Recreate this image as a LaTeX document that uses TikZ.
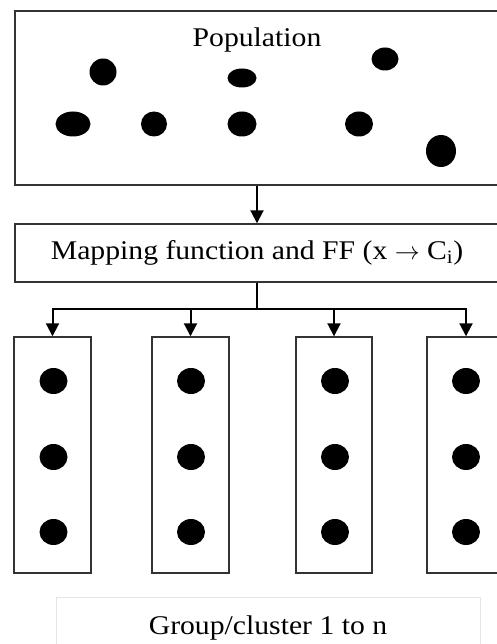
\documentclass[tikz,border=0pt]{standalone}
\usepackage{fontspec}
\setmainfont[FakeStretch=1.1]{Liberation Serif}
\usepackage{tikz}
\usetikzlibrary{arrows.meta,shapes.geometric}
\definecolor{bxline}{HTML}{333333}
\definecolor{bxpale}{HTML}{E4E4E4}

\begin{document}
\begin{tikzpicture}[
  x=1pt, y=-1pt,
  box/.style={draw=bxline, line width=1.4pt, inner sep=0pt},
  dot/.style={ellipse, fill=black, inner sep=0pt, minimum width=28pt, minimum height=26pt},
  lbl/.style={font=\fontsize{27pt}{30pt}\selectfont},
  arr/.style={-{Triangle[length=13pt,width=13pt]}, line width=2pt, draw=black}
]
\useasboundingbox (0,0) rectangle (496,644);
% population
\node[box, minimum width=484pt, minimum height=174pt] (pop) at (257,98) {};
\node[lbl] (poptext) at (257,40) {Population};
\node[dot, minimum width=27pt, minimum height=27pt] (p1) at (103,72) {};
\node[dot, minimum width=29pt, minimum height=19pt] (p2) at (242,78) {};
\node[dot, minimum width=27pt, minimum height=23pt] (p3) at (385,59) {};
\node[dot, minimum width=35pt, minimum height=25pt] (p4) at (73,124) {};
\node[dot, minimum width=26pt, minimum height=25pt] (p5) at (154,124) {};
\node[dot, minimum width=29pt, minimum height=25pt] (p6) at (242,124) {};
\node[dot, minimum width=28pt, minimum height=25pt] (p7) at (359,124) {};
\node[dot, minimum width=30pt, minimum height=32pt] (p8) at (441,151) {};
% mapping
\node[box, lbl, minimum width=484pt, minimum height=58pt] (map) at (257,253) {Mapping function and FF (x $\rightarrow$ C\textsubscript{i})};
\coordinate (fork) at (257,309);
% clusters
\node[box, minimum width=77pt, minimum height=236pt] (c1) at (52.5,455) {};
\node[box, minimum width=77pt, minimum height=236pt] (c2) at (190.5,455) {};
\node[box, minimum width=76pt, minimum height=236pt] (c3) at (334,455) {};
\node[box, minimum width=78pt, minimum height=236pt] (c4) at (466,455) {};
\node[dot] (c1a) at (53.5,381) {};
\node[dot] (c1b) at (53.5,457) {};
\node[dot] (c1c) at (53.5,532) {};
\node[dot] (c2a) at (191,381) {};
\node[dot] (c2b) at (191,457) {};
\node[dot] (c2c) at (191,532) {};
\node[dot] (c3a) at (335,381) {};
\node[dot] (c3b) at (335,457) {};
\node[dot] (c3c) at (335,532) {};
\node[dot] (c4a) at (466,381) {};
\node[dot] (c4b) at (466,457) {};
\node[dot] (c4c) at (466,532) {};
% caption box
\node[draw=bxpale, line width=0.6pt, minimum width=424pt, minimum height=64pt, inner sep=0pt] (grp) at (268,629) {};
\node[lbl] (grptext) at (268,628) {Group/cluster 1 to n};
\draw[arr] (pop) -- (map);
\draw[line width=2pt] (map) -- (fork);
\draw[arr] (fork) -| (c1); \draw[arr] (fork) -| (c2); \draw[arr] (fork) -| (c3); \draw[arr] (fork) -| (c4);
\end{tikzpicture}
\end{document}
